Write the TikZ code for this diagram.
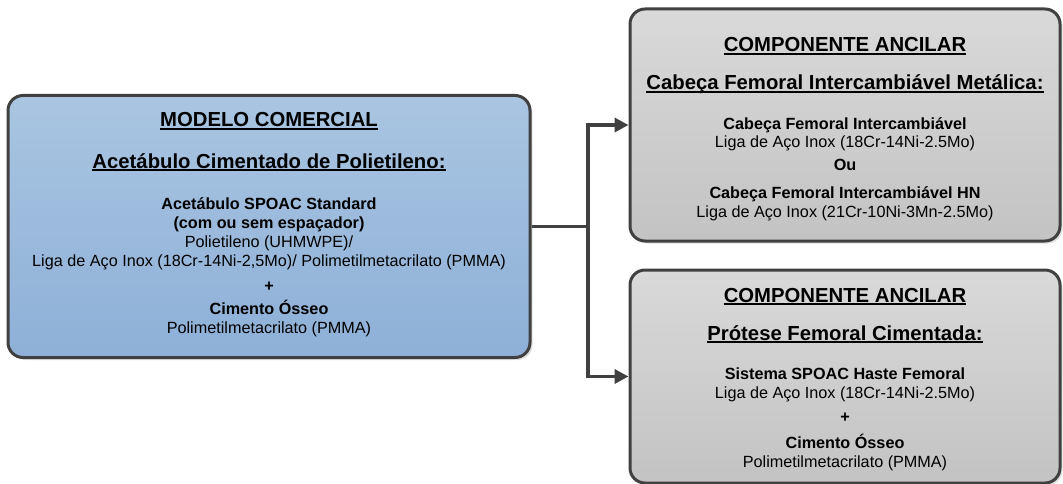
\documentclass[tikz,border=0pt]{standalone}
\usepackage{fontspec}
\setmainfont{Liberation Sans}
\newcommand\myul[1]{\setbox0\hbox{#1}\rlap{\rule[-2.8pt]{\wd0}{1.5pt}}\box0}
\usetikzlibrary{arrows.meta,shadows}
\definecolor{edgegray}{HTML}{404040}
\definecolor{bluetop}{HTML}{A9C5E1}
\definecolor{bluebot}{HTML}{8EB0D7}
\definecolor{graytop}{HTML}{D9D9D9}
\definecolor{graybot}{HTML}{C3C3C3}
\begin{document}
\begin{tikzpicture}[x=1pt,y=-1pt,
  boxbase/.style={draw=edgegray, line width=3pt, rounded corners=15pt, inner sep=0pt,
    drop shadow={shadow xshift=2.5pt, shadow yshift=-2.5pt, fill=black, opacity=0.12}},
  bluebox/.style={boxbase, top color=bluetop, bottom color=bluebot},
  graybox/.style={boxbase, top color=graytop, bottom color=graybot},
  hd/.style={anchor=base, inner sep=0pt, font=\fontsize{20.3}{24}\selectfont\bfseries},
  bd/.style={anchor=base, inner sep=0pt, font=\fontsize{16.2}{19}\selectfont\bfseries},
  tx/.style={anchor=base, inner sep=0pt, font=\fontsize{16.2}{19}\selectfont},
  conn/.style={draw=edgegray, line width=3.5pt, line join=miter},
  arr/.style={conn, -{Triangle[length=14pt,width=14pt]}}
]
\useasboundingbox (0,0) rectangle (1063,484);

% boxes
\node[bluebox, minimum width=522pt, minimum height=262pt] (L) at (269,226.5) {};
\node[graybox, minimum width=430pt, minimum height=232pt] (T) at (845,125) {};
\node[graybox, minimum width=430pt, minimum height=213pt] (B) at (845,376.5) {};

% left texts
\node[hd] (l1) at (269,127) {\myul{MODELO COMERCIAL}};
\node[hd] (l2) at (269,168) {\myul{Acetábulo Cimentado de Polietileno:}};
\node[bd] (l3) at (269,209) {Acetábulo SPOAC Standard};
\node[bd] (l4) at (269,228) {(com ou sem espaçador)};
\node[tx] (l5) at (269,247) {Polietileno (UHMWPE)/};
\node[tx] (l6) at (269,266) {Liga de Aço Inox (18Cr-14Ni-2,5Mo)/ Polimetilmetacrilato (PMMA)};
\node[bd] (l7) at (269,291) {+};
\node[bd] (l8) at (269,314) {Cimento Ósseo};
\node[tx] (l9) at (269,333) {Polimetilmetacrilato (PMMA)};

% top right texts
\node[hd] (t1) at (845,52) {\myul{COMPONENTE ANCILAR}};
\node[hd] (t2) at (845,90) {\myul{Cabeça Femoral Intercambiável Metálica:}};
\node[bd] (t3) at (845,130) {Cabeça Femoral Intercambiável};
\node[tx] (t4) at (845,148) {Liga de Aço Inox (18Cr-14Ni-2.5Mo)};
\node[bd] (t5) at (845,171) {Ou};
\node[bd] (t6) at (845,198) {Cabeça Femoral Intercambiável HN};
\node[tx] (t7) at (845,217) {Liga de Aço Inox (21Cr-10Ni-3Mn-2.5Mo)};

% bottom right texts
\node[hd] (b1) at (845,302) {\myul{COMPONENTE ANCILAR}};
\node[hd] (b2) at (845,340) {\myul{Prótese Femoral Cimentada:}};
\node[bd] (b3) at (845,379) {Sistema SPOAC Haste Femoral};
\node[tx] (b4) at (845,398) {Liga de Aço Inox (18Cr-14Ni-2.5Mo)};
\node[bd] (b5) at (845,422) {+};
\node[bd] (b6) at (845,448) {Cimento Ósseo};
\node[tx] (b7) at (845,467) {Polimetilmetacrilato (PMMA)};

% connectors
\coordinate (J) at (588,226.5);
\draw[conn] (L.east) -- (J);
\draw[arr] (J) |- (T.west);
\draw[arr] (J) |- (B.west);
\end{tikzpicture}
\end{document}
